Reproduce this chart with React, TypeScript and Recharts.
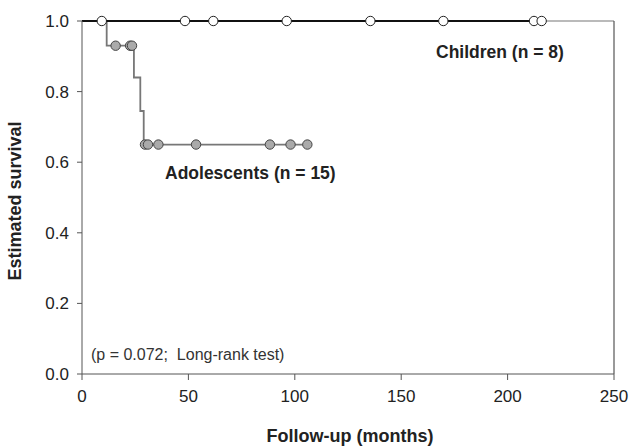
import { ComposedChart, Line, Scatter, XAxis, YAxis, ReferenceLine, Customized } from "recharts";

// Kaplan-Meier step points (time in months, survival)
const childrenSteps = [
  { t: 0, s: 1 },
  { t: 216, s: 1 },
];
const adolescentSteps = [
  { t: 0, s: 1 },
  { t: 11.6, s: 0.93 },
  { t: 24.4, s: 0.84 },
  { t: 27.4, s: 0.745 },
  { t: 29, s: 0.65 },
  { t: 106, s: 0.65 },
];

// censored observations
const childrenCensored = [
  { t: 9.3, s: 1 },
  { t: 48.4, s: 1 },
  { t: 61.7, s: 1 },
  { t: 96.2, s: 1 },
  { t: 135.5, s: 1 },
  { t: 169.8, s: 1 },
  { t: 212.4, s: 1 },
  { t: 216, s: 1 },
];
const adolescentCensored = [
  { t: 15.8, s: 0.93 },
  { t: 22.6, s: 0.93 },
  { t: 23.5, s: 0.93 },
  { t: 29.6, s: 0.65 },
  { t: 31, s: 0.65 },
  { t: 35.9, s: 0.65 },
  { t: 53.6, s: 0.65 },
  { t: 88.3, s: 0.65 },
  { t: 98, s: 0.65 },
  { t: 105.9, s: 0.65 },
];

const xTicks = [0, 50, 100, 150, 200, 250];
const yTicks = [0, 0.2, 0.4, 0.6, 0.8, 1.0];

const font = "'Liberation Sans', Arial, Helvetica, sans-serif";
const axisColor = "#555";

function Annotations() {
  return (
    <g fontFamily={font} fill="#222">
      <text x={436} y={58} fontSize={17.5} fontWeight="bold">Children (n = 8)</text>
      <text x={165} y={179} fontSize={17.5} fontWeight="bold">Adolescents (n = 15)</text>
      <text x={91} y={360} fontSize={16} fill="#333" style={{ whiteSpace: "pre" }}>
        {"(p = 0.072;\u00a0 Long-rank test)"}
      </text>
      <text x={350} y={442} fontSize={18} fontWeight="bold" textAnchor="middle">Follow-up (months)</text>
      <text
        x={21}
        y={201}
        fontSize={18}
        fontWeight="bold"
        textAnchor="middle"
        transform="rotate(-90 21 201)"
      >
        Estimated survival
      </text>
    </g>
  );
}

export default function App() {
  return (
    <div style={{ position: "absolute", left: 0, top: 0, background: "#fff" }}>
      <ComposedChart
        width={630}
        height={446}
        margin={{ top: 21, right: 16, bottom: 42, left: 22 }}
      >
        <XAxis
          type="number"
          dataKey="t"
          domain={[0, 250]}
          ticks={xTicks}
          allowDataOverflow
          height={30}
          tickSize={6}
          tickMargin={10}
          stroke={axisColor}
          tick={{ fill: "#222", fontSize: 17, fontFamily: font }}
        />
        <YAxis
          type="number"
          dataKey="s"
          domain={[0, 1]}
          ticks={yTicks}
          width={60}
          tickSize={5}
          tickMargin={8}
          stroke={axisColor}
          tickFormatter={(v: number) => v.toFixed(1)}
          tick={{ fill: "#222", fontSize: 17, fontFamily: font }}
        />
        <ReferenceLine y={1} stroke="#777" strokeWidth={1.2} />
        <ReferenceLine x={250} stroke={axisColor} strokeWidth={1.2} />
        <Line
          data={adolescentSteps}
          dataKey="s"
          type="stepAfter"
          stroke="#777"
          strokeWidth={1.8}
          dot={false}
          activeDot={false}
          isAnimationActive={false}
        />
        <Line
          data={childrenSteps}
          dataKey="s"
          type="stepAfter"
          stroke="#111"
          strokeWidth={1.8}
          dot={false}
          activeDot={false}
          isAnimationActive={false}
        />
        <Scatter
          data={adolescentCensored}
          dataKey="s"
          fill="#aaa"
          stroke="#444"
          shape={(p: any) => <circle cx={p.cx} cy={p.cy} r={4.7} fill="#aaa" stroke="#444" strokeWidth={1} />}
          isAnimationActive={false}
        />
        <Scatter
          data={childrenCensored}
          dataKey="s"
          fill="#fff"
          stroke="#222"
          shape={(p: any) => <circle cx={p.cx} cy={p.cy} r={4.7} fill="#fff" stroke="#222" strokeWidth={1} />}
          isAnimationActive={false}
        />
        <Customized component={Annotations} />
      </ComposedChart>
    </div>
  );
}
